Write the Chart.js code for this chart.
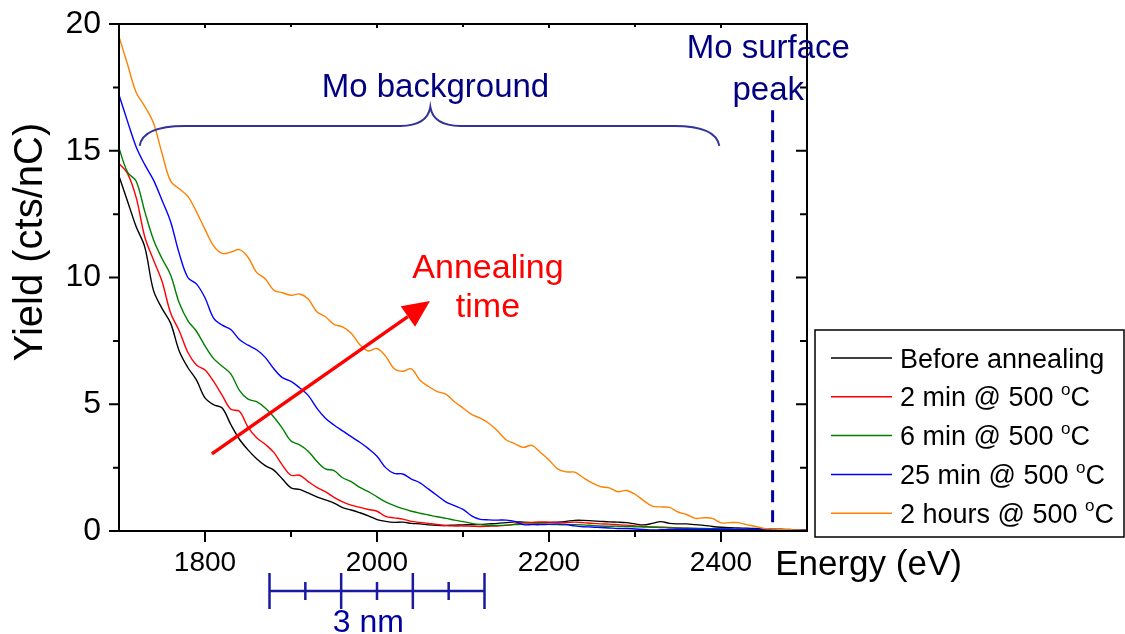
<!DOCTYPE html>
<html>
<head>
<meta charset="utf-8">
<script src="https://cdn.jsdelivr.net/npm/chart.js@4.4.0/dist/chart.umd.min.js"></script>
<style>
html, body { margin: 0; padding: 0; background: #fff; }
#wrap { width: 1125px; height: 634px; }
</style>
</head>
<body>
<div id="wrap"><canvas id="c" width="1125" height="634"></canvas></div>
<script>
/* Mo yield vs energy for different annealing times */

var FONT = '"Liberation Sans", Arial, sans-serif';

var ENERGY = [
  1700,1710,1720,1730,1740,1750,1760,1770,1780,1790,
  1800,1810,1820,1830,1840,1850,1860,1870,1880,1890,
  1900,1910,1920,1930,1940,1950,1960,1970,1980,1990,
  2000,2010,2020,2030,2040,2050,2060,2070,2080,2090,
  2100,2110,2120,2130,2140,2150,2160,2170,2180,2190,
  2200,2210,2220,2230,2240,2250,2260,2270,2280,2290,
  2300,2310,2320,2330,2340,2350,2360,2370,2380,2390,
  2400,2410,2420,2430,2440,2450,2460,2470,2480,2490,
  2500
];

var BEFORE = [
  14.0,13.0,12.0,11.2,9.5,8.78,8.2,7.1,6.45,5.96,
  5.25,4.98,4.85,4.2,3.62,3.2,2.85,2.58,2.4,2.05,
  1.7,1.64,1.5,1.35,1.23,1.1,0.92,0.83,0.72,0.6,
  0.45,0.38,0.34,0.35,0.3,0.28,0.24,0.22,0.22,0.23,
  0.24,0.25,0.26,0.28,0.3,0.33,0.36,0.35,0.33,0.32,
  0.33,0.35,0.38,0.42,0.42,0.4,0.38,0.36,0.35,0.33,
  0.28,0.24,0.3,0.37,0.3,0.28,0.28,0.25,0.22,0.18,
  0.15,0.13,0.12,0.11,0.1,0.09,0.08,0.07,0.06,0.05,
  0.05
];

var MIN2 = [
  14.5,14.1,13.15,11.6,10.7,9.85,8.6,7.9,7.05,6.55,
  6.35,5.9,5.35,4.8,4.72,4.1,3.68,3.42,3.1,2.6,
  2.2,2.2,1.95,1.72,1.55,1.33,1.15,1.02,0.93,0.85,
  0.78,0.58,0.52,0.47,0.38,0.34,0.3,0.26,0.21,0.2,
  0.2,0.19,0.18,0.19,0.2,0.22,0.27,0.32,0.34,0.36,
  0.35,0.34,0.33,0.35,0.33,0.3,0.28,0.27,0.25,0.23,
  0.2,0.18,0.16,0.15,0.14,0.12,0.11,0.1,0.09,0.08,
  0.07,0.07,0.06,0.06,0.05,0.05,0.05,0.04,0.04,0.04,
  0.04
];

var MIN6 = [
  15.1,14.15,13.8,12.6,11.5,10.75,10.1,9.0,8.3,7.88,
  7.3,6.8,6.5,6.2,5.55,5.2,5.1,4.85,4.5,4.05,
  3.55,3.4,3.15,2.75,2.45,2.38,2.1,1.95,1.72,1.55,
  1.35,1.15,1.0,0.88,0.78,0.7,0.63,0.56,0.5,0.43,
  0.37,0.3,0.25,0.22,0.22,0.23,0.25,0.27,0.28,0.27,
  0.26,0.25,0.24,0.25,0.24,0.22,0.2,0.19,0.19,0.18,
  0.17,0.16,0.15,0.14,0.13,0.12,0.11,0.1,0.1,0.09,
  0.08,0.08,0.07,0.07,0.06,0.06,0.05,0.05,0.05,0.04,
  0.04
];

var MIN25 = [
  17.2,16.15,15.15,14.45,13.85,13.05,12.2,10.95,10.0,9.75,
  9.2,8.4,8.12,7.95,7.55,7.33,7.15,6.85,6.4,6.05,
  5.9,5.65,5.35,4.85,4.45,4.18,3.95,3.72,3.5,3.25,
  2.95,2.5,2.27,2.25,2.05,1.9,1.65,1.4,1.15,1.0,
  0.85,0.6,0.46,0.44,0.43,0.43,0.38,0.25,0.25,0.25,
  0.26,0.28,0.26,0.2,0.17,0.16,0.14,0.12,0.1,0.1,
  0.08,0.06,0.04,0.05,0.06,0.07,0.07,0.07,0.07,0.07,
  0.07,0.07,0.06,0.06,0.06,0.06,0.05,0.05,0.05,0.05,
  0.05
];

var HOURS2 = [
  19.5,18.4,17.3,16.75,16.1,14.9,13.8,13.5,13.2,12.6,
  11.9,11.25,10.95,11.0,11.1,10.8,10.2,9.95,9.5,9.4,
  9.3,9.35,9.15,8.65,8.45,8.15,8.05,7.8,7.35,7.1,
  7.2,6.9,6.4,6.3,6.4,5.95,5.7,5.5,5.4,5.1,
  4.85,4.6,4.45,4.25,3.95,3.6,3.45,3.3,3.38,3.1,
  2.8,2.45,2.33,2.32,2.1,1.9,1.75,1.7,1.55,1.6,
  1.45,1.2,0.98,0.95,0.93,0.75,0.65,0.5,0.52,0.5,
  0.32,0.33,0.33,0.25,0.18,0.1,0.08,0.06,0.05,0.04,
  0.03
];

var SERIES_NAMES  = ['Before annealing', '2 min @ 500 °C', '6 min @ 500 °C', '25 min @ 500 °C', '2 hours @ 500 °C'];
var SERIES_DATA   = [BEFORE, MIN2, MIN6, MIN25, HOURS2];
var SERIES_COLORS = ['#000000', '#FF0000', '#008000', '#0000FF', '#FF8000'];

var X_TICKS = [1800, 2000, 2200, 2400];
var X_MINOR = [1900, 2100, 2300];
var Y_TICKS = [0, 5, 10, 15, 20];
var Y_MINOR = [2.5, 7.5, 12.5, 17.5];

var X_TITLE = 'Energy (eV)';
var Y_TITLE = 'Yield (cts/nC)';

// annotations, in data units
var PEAK_ENERGY = 2460, PEAK_TOP = 16.6;
var BRACE = { from: 1724, to: 2398, tip: 2062, yEnd: 15.19, yLine: 15.98, yTip: 16.73 };
var ARROW = { x0: 1808, y0: 3.04, x1: 2061.6, y1: 9.07 };
var SCALE_BAR = { from: 1875, to: 2125, parts: 6, label: '3 nm' };

var datasets = SERIES_DATA.map(function(arr, i) {
  return {
    label: SERIES_NAMES[i],
    data: arr.map(function(v, j) { return { x: ENERGY[j], y: v }; }),
    borderColor: SERIES_COLORS[i],
    backgroundColor: SERIES_COLORS[i],
    borderWidth: 1.4,
    pointRadius: 0,
    tension: 0.35,
    fill: false
  };
});
// draw the 2 hours curve first so the others sit on top
datasets.reverse();

function drawDegreeText(ctx, text, x, y, size) {
  var parts = text.split('°');
  ctx.font = size + 'px ' + FONT;
  ctx.fillText(parts[0], x, y);
  if (parts.length < 2) return;
  var w = ctx.measureText(parts[0]).width;
  ctx.font = Math.round(size * 0.62) + 'px ' + FONT;
  ctx.fillText('o', x + w, y - size * 0.42);
  var w2 = ctx.measureText('o').width;
  ctx.font = size + 'px ' + FONT;
  ctx.fillText(parts[1], x + w + w2, y);
}

var decorations = {
  id: 'decorations',
  afterDraw: function(chart) {
    var ctx = chart.ctx, a = chart.chartArea;
    var xs = chart.scales.x, ys = chart.scales.y;
    var px = function(v) { return xs.getPixelForValue(v); };
    var py = function(v) { return ys.getPixelForValue(v); };
    ctx.save();

    // frame
    ctx.strokeStyle = '#000';
    ctx.lineWidth = 2;
    ctx.strokeRect(a.left, a.top, a.right - a.left, a.bottom - a.top);

    // ticks
    ctx.beginPath();
    Y_TICKS.forEach(function(v) {
      var y = py(v);
      ctx.moveTo(a.left - 10, y); ctx.lineTo(a.left, y);
      ctx.moveTo(a.right, y); ctx.lineTo(a.right - 11, y);
    });
    Y_MINOR.forEach(function(v) {
      var y = py(v);
      ctx.moveTo(a.left - 6, y); ctx.lineTo(a.left, y);
      ctx.moveTo(a.right, y); ctx.lineTo(a.right - 7, y);
    });
    X_TICKS.forEach(function(v) {
      var x = px(v);
      ctx.moveTo(x, a.bottom); ctx.lineTo(x, a.bottom + 11);
      ctx.moveTo(x, a.top); ctx.lineTo(x, a.top + 4);
    });
    X_MINOR.forEach(function(v) {
      var x = px(v);
      ctx.moveTo(x, a.bottom); ctx.lineTo(x, a.bottom + 6);
      ctx.moveTo(x, a.top); ctx.lineTo(x, a.top + 3);
    });
    ctx.stroke();

    // axis titles
    ctx.fillStyle = '#000';
    ctx.font = '35px ' + FONT;
    ctx.textAlign = 'left';
    ctx.textBaseline = 'alphabetic';
    ctx.fillText(X_TITLE, px(2463), a.bottom + 44);
    ctx.save();
    ctx.translate(a.left - 88, py(11.4));
    ctx.rotate(-Math.PI / 2);
    ctx.textAlign = 'center';
    ctx.textBaseline = 'middle';
    ctx.font = '40px ' + FONT;
    ctx.fillText(Y_TITLE, 0, 0);
    ctx.restore();

    // Mo surface peak dashed line
    ctx.strokeStyle = '#0000A0';
    ctx.lineWidth = 3;
    ctx.setLineDash([12, 8]);
    ctx.beginPath();
    ctx.moveTo(px(PEAK_ENERGY), py(PEAK_TOP));
    ctx.lineTo(px(PEAK_ENERGY), a.bottom);
    ctx.stroke();
    ctx.setLineDash([]);

    // brace
    var xL = px(BRACE.from), xR = px(BRACE.to), xT = px(BRACE.tip);
    var yE = py(BRACE.yEnd), yL = py(BRACE.yLine), yT = py(BRACE.yTip);
    ctx.strokeStyle = '#333399';
    ctx.lineWidth = 2;
    ctx.beginPath();
    ctx.moveTo(xL, yE);
    ctx.quadraticCurveTo(xL + 3, yL, xL + 45, yL);
    ctx.lineTo(xT - 30, yL);
    ctx.quadraticCurveTo(xT - 3, yL, xT, yT);
    ctx.quadraticCurveTo(xT + 3, yL, xT + 30, yL);
    ctx.lineTo(xR - 45, yL);
    ctx.quadraticCurveTo(xR - 3, yL, xR, yE);
    ctx.stroke();

    // navy labels
    ctx.fillStyle = '#000080';
    ctx.font = '33px ' + FONT;
    ctx.textAlign = 'center';
    ctx.textBaseline = 'alphabetic';
    ctx.fillText('Mo background', px(2068), py(17.13));
    ctx.fillText('Mo surface', px(2455), py(18.66));
    ctx.fillText('peak', px(2455), py(17.0));

    // arrow
    var ax0 = px(ARROW.x0), ay0 = py(ARROW.y0), ax1 = px(ARROW.x1), ay1 = py(ARROW.y1);
    var ang = Math.atan2(ay1 - ay0, ax1 - ax0);
    var hl = 27, hw = 12.5;
    var bx = ax1 - hl * Math.cos(ang), by = ay1 - hl * Math.sin(ang);
    ctx.strokeStyle = '#FF0000';
    ctx.fillStyle = '#FF0000';
    ctx.lineWidth = 3.5;
    ctx.beginPath();
    ctx.moveTo(ax0, ay0);
    ctx.lineTo(bx, by);
    ctx.stroke();
    ctx.beginPath();
    ctx.moveTo(ax1, ay1);
    ctx.lineTo(bx + hw * Math.sin(ang), by - hw * Math.cos(ang));
    ctx.lineTo(bx - hw * Math.sin(ang), by + hw * Math.cos(ang));
    ctx.closePath();
    ctx.fill();

    ctx.font = '34px ' + FONT;
    ctx.textAlign = 'center';
    ctx.fillText('Annealing', px(2129), py(10.0));
    ctx.fillText('time', px(2129), py(8.45));

    // scale bar
    var sx0 = px(SCALE_BAR.from), sx1 = px(SCALE_BAR.to);
    var sy = a.bottom + 60;
    ctx.strokeStyle = '#1A1AA0';
    ctx.lineWidth = 2.5;
    ctx.beginPath();
    ctx.moveTo(sx0, sy); ctx.lineTo(sx1, sy);
    for (var k = 0; k <= SCALE_BAR.parts; k++) {
      var tx = px(SCALE_BAR.from + (SCALE_BAR.to - SCALE_BAR.from) * k / SCALE_BAR.parts);
      var h = (k % 2 === 0) ? 18 : 9;
      ctx.moveTo(tx, sy - h); ctx.lineTo(tx, sy + h);
    }
    ctx.stroke();
    ctx.fillStyle = '#0000A0';
    ctx.font = '32px ' + FONT;
    ctx.textAlign = 'center';
    ctx.fillText(SCALE_BAR.label, px(1990), a.bottom + 101);

    // legend box
    var lx = 815, ly = 330, lw = 309, lh = 207;
    ctx.strokeStyle = '#000';
    ctx.lineWidth = 1.5;
    ctx.strokeRect(lx, ly, lw, lh);
    ctx.textAlign = 'left';
    ctx.textBaseline = 'alphabetic';
    for (var i = 0; i < SERIES_NAMES.length; i++) {
      var ry = ly + 28 + i * 38.8;
      ctx.strokeStyle = SERIES_COLORS[i];
      ctx.lineWidth = 1.5;
      ctx.beginPath();
      ctx.moveTo(lx + 16, ry); ctx.lineTo(lx + 77, ry);
      ctx.stroke();
      ctx.fillStyle = '#000';
      drawDegreeText(ctx, SERIES_NAMES[i], lx + 85, ry + 9.5, 27);
    }

    ctx.restore();
  }
};

new Chart(document.getElementById('c'), {
  type: 'line',
  data: { datasets: datasets },
  options: {
    responsive: false,
    animation: false,
    layout: { padding: { left: 0, top: 24, right: 318, bottom: 0 } },
    plugins: { legend: { display: false }, tooltip: { enabled: false } },
    scales: {
      x: {
        type: 'linear', min: 1700, max: 2500,
        grid: { display: false, drawTicks: false, tickLength: 0 },
        border: { display: false },
        afterBuildTicks: function(s) { s.ticks = X_TICKS.map(function(v) { return { value: v }; }); },
        afterFit: function(s) { s.height = 103; s.paddingLeft = 0; s.paddingRight = 0; },
        ticks: {
          autoSkip: false, maxRotation: 0, padding: 15, color: '#000',
          font: { family: FONT, size: 28 },
          callback: function(v) { return String(v); }
        }
      },
      y: {
        type: 'linear', min: 0, max: 20,
        grid: { display: false, drawTicks: false, tickLength: 0 },
        border: { display: false },
        afterBuildTicks: function(s) { s.ticks = Y_TICKS.map(function(v) { return { value: v }; }); },
        afterFit: function(s) { s.width = 119; s.paddingTop = 0; s.paddingBottom = 0; },
        ticks: {
          padding: 18, color: '#000',
          font: { family: FONT, size: 32 },
          callback: function(v) { return String(v); }
        }
      }
    }
  },
  plugins: [decorations]
});
</script>
</body>
</html>
